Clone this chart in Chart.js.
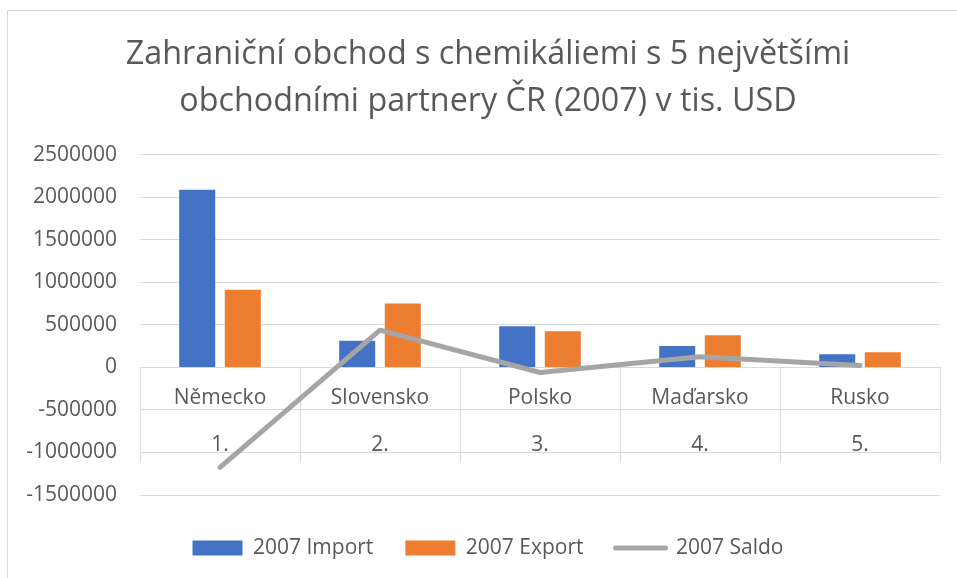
<!DOCTYPE html>
<html>
<head>
<meta charset="utf-8">
<script src="https://cdn.jsdelivr.net/npm/chart.js@4.4.0/dist/chart.umd.min.js"></script>
<style>
html, body { margin: 0; padding: 0; background: #ffffff; overflow: hidden; width: 957px; height: 578px; }
#wrap { position: relative; width: 976px; height: 578px; }
#frame { position: absolute; left: 7px; top: 10px; width: 1000px; height: 600px;
  border-left: 1px solid #d9d9d9; border-top: 1px solid #d9d9d9; pointer-events: none; }
</style>
</head>
<body>
<div id="wrap">
  <canvas id="c" width="976" height="578"></canvas>
  <div id="frame"></div>
</div>
<script>
// ---- data ----
const countries = ['Německo', 'Slovensko', 'Polsko', 'Maďarsko', 'Rusko'];
const ranks = ['1.', '2.', '3.', '4.', '5.'];
const importValues = [2090000, 314000, 486000, 254000, 156000];
const exportValues = [914000, 753000, 427000, 380000, 180000];
const saldoValues = [-1176000, 439000, -59000, 126000, 24000];
const seriesNames = ['2007 Import', '2007 Export', '2007 Saldo'];
const titleLines = ['Zahraniční obchod s chemikáliemi s 5 největšími', 'obchodními partnery ČR (2007) v tis. USD'];
const yMin = -1500000;
const yMax = 2500000;
const yStep = 500000;

const TEXT = '#595959';
const GRID = '#d9d9d9';
const FONT = '"Open Sans", "Noto Sans", sans-serif';

function draw() {
  Chart.defaults.font.family = FONT;
  Chart.defaults.color = TEXT;

  const labels = countries.map((c, i) => [c, ranks[i]]);

  new Chart(document.getElementById('c'), {
    type: 'bar',
    data: {
      labels: labels,
      datasets: [
        { label: seriesNames[0], data: importValues, backgroundColor: '#4472c4', borderWidth: 0,
          categoryPercentage: 0.57, barPercentage: 0.79, order: 0 },
        { label: seriesNames[1], data: exportValues, backgroundColor: '#ed7d31', borderWidth: 0,
          categoryPercentage: 0.57, barPercentage: 0.79, order: 0 },
        { type: 'line', label: seriesNames[2], data: saldoValues, borderColor: '#a5a5a5',
          backgroundColor: '#a5a5a5', borderWidth: 5, pointRadius: 0, tension: 0,
          borderJoinStyle: 'round', borderCapStyle: 'round', order: -1 }
      ]
    },
    options: {
      responsive: false,
      animation: false,
      devicePixelRatio: 1,
      layout: { padding: { left: 0, right: 0, top: 0, bottom: 9.5 } },
      scales: {
        x: {
          type: 'category',
          position: { y: 0 },
          offset: true,
          grid: { offset: true, drawOnChartArea: false, drawTicks: true, tickLength: 93, color: GRID, lineWidth: 1 },
          border: { display: true, color: GRID, width: 1 },
          ticks: { padding: -86, color: TEXT, font: { size: 21, lineHeight: 2.238 }, maxRotation: 0, autoSkip: false }
        },
        y: {
          position: 'left',
          min: yMin, max: yMax,
          grid: { color: GRID, lineWidth: 1, drawTicks: false },
          border: { display: false },
          ticks: { stepSize: yStep, padding: 23, color: TEXT, font: { size: 21 },
            callback: (v) => String(v) },
          afterFit: (s) => { s.width = 140; }
        },
        yRight: {
          type: 'linear',
          position: 'right',
          display: true,
          grid: { display: false, drawOnChartArea: false, drawTicks: false },
          border: { display: false },
          ticks: { display: false },
          afterFit: (s) => { s.width = 36; }
        }
      },
      plugins: {
        tooltip: { enabled: false },
        title: {
          display: true,
          text: titleLines,
          color: TEXT,
          font: { size: 32.3, weight: 'normal', lineHeight: 1.45 },
          padding: { top: 31.5, bottom: 29.8 }
        },
        legend: {
          position: 'bottom',
          title: { display: true, text: '', font: { size: 1, lineHeight: 1 }, padding: { top: 9.5, bottom: 0 } },
          labels: {
            color: TEXT,
            font: { size: 21 },
            usePointStyle: true,
            pointStyleWidth: 50,
            boxHeight: 15,
            padding: 32,
            sort: (a, b) => a.datasetIndex - b.datasetIndex,
            generateLabels: (chart) => {
              const items = Chart.defaults.plugins.legend.labels.generateLabels(chart);
              items.forEach((it) => {
                const ds = chart.data.datasets[it.datasetIndex];
                if (ds.type === 'line') {
                  it.pointStyle = 'line';
                  it.strokeStyle = ds.borderColor;
                  it.fillStyle = ds.borderColor;
                  it.lineWidth = 5;
                  it.lineCap = 'round';
                } else {
                  it.pointStyle = 'rect';
                  it.fillStyle = ds.backgroundColor;
                  it.strokeStyle = ds.backgroundColor;
                  it.lineWidth = 0;
                }
                it.fontColor = TEXT;
              });
              return items;
            }
          }
        }
      }
    }
  });
}

if (document.fonts && document.fonts.load) {
  Promise.all([
    document.fonts.load('21px "Open Sans"'),
    document.fonts.load('32px "Open Sans"')
  ]).then(draw, draw);
} else {
  draw();
}
</script>
</body>
</html>
